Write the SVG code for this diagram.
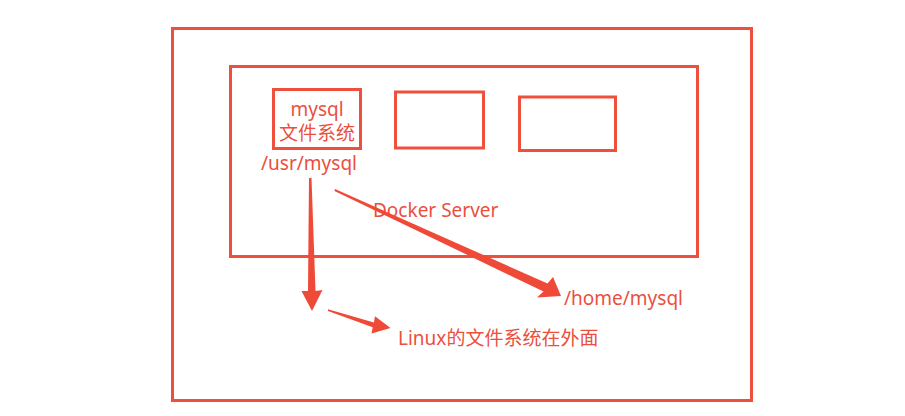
<svg xmlns="http://www.w3.org/2000/svg" width="905" height="416" viewBox="0 0 905 416">
<style>
.box{fill:none;stroke:#ef4f3d;stroke-width:3}
.t{fill:#eb4f3e;font-family:"Noto Sans","Noto Sans CJK SC",sans-serif;font-size:19px}
.arr{fill:#ef4a38}
</style>
<rect width="905" height="416" fill="#ffffff"/>
<g id="host"><rect class="box" x="172.5" y="28.5" width="579" height="372"/></g>
<g id="docker-server"><rect class="box" x="230.5" y="66.5" width="467" height="190"/>
<text class="t" x="373" y="217" font-size="18">Docker Server</text></g>
<g id="mysql"><rect class="box" x="273.5" y="89.5" width="87" height="59"/>
<text class="t" x="317" y="116" text-anchor="middle">mysql</text>
<text class="t" x="317" y="140" text-anchor="middle">文件系统</text></g>
<g id="container2"><rect class="box" x="395.5" y="92" width="88" height="56"/></g>
<g id="container3"><rect class="box" x="519.5" y="97" width="96" height="53.5"/></g>
<g id="usr-mysql"><text class="t" x="261" y="170">/usr/mysql</text></g>
<g id="home-mysql"><text class="t" x="564" y="305">/home/mysql</text></g>
<g id="linux-fs"><text class="t" x="398" y="345">Linux的文件系统在外面</text></g>
<g id="connectors">
<polygon class="arr" points="309,178 311.5,178 315.5,291 322.5,290 312,311 301.5,291 308,291"/>
<polygon class="arr" points="335,189 547.5,283.5 553,277 561,296 537,297.5 543.5,291.5 334.5,191"/>
<polygon class="arr" points="328,309.3 373.9,322.5 375,316.2 390.5,328 371.5,333.5 372.7,327.2 328,311"/>
</g>
</svg>
